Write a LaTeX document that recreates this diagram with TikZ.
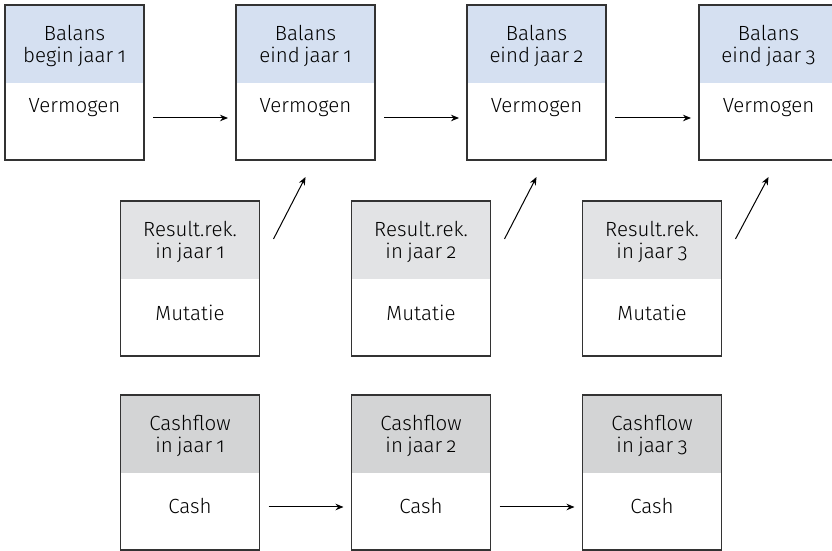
\documentclass[tikz,border=0pt]{standalone}
\usepackage{fontspec}
\setmainfont{Fira Sans Light}[Numbers=OldStyle, WordSpace=0.75]
\usetikzlibrary{arrows.meta,positioning}

\definecolor{balansblauw}{HTML}{D5E0F1}
\definecolor{resultgrijs}{HTML}{E2E3E5}
\definecolor{cashgrijs}{HTML}{D3D4D5}
\definecolor{lijngrijs}{HTML}{333333}

\tikzset{
  kop/.style={anchor=north, minimum width=139pt, minimum height=78pt,
    inner sep=0pt, outer sep=0pt, align=center, text depth=0pt,
    font=\fontsize{20.5}{22}\selectfont},
  kaart/.style={draw=lijngrijs, line width=1.3pt, anchor=north,
    minimum width=139pt, minimum height=155pt, inner sep=0pt, outer sep=0pt},
  romptekst/.style={anchor=base, inner sep=0pt, font=\fontsize{20.5}{22}\selectfont},
  pijl/.style={line width=1pt, -{Stealth[length=8pt,width=6.5pt]}}
}

\begin{document}
\begin{tikzpicture}[x=1pt,y=1pt]

\pgfmathsetmacro{\toprij}{546}
\pgfmathsetmacro{\middenrij}{350}
\pgfmathsetmacro{\onderrij}{156}

\useasboundingbox (0,0) rectangle (832,551);
\clip (0,0) rectangle (832,551);

% Balans boxes:
\node[kop, fill=balansblauw] (b1kop) at (74.5,\toprij) {Balans\\begin jaar 1};
\node[kaart] (b1) at (b1kop.north) {};
\node[romptekst] (b1tekst) at ([yshift=-30pt]b1kop.south) {Vermogen};

\node[kop, fill=balansblauw] (b2kop) at (305.5,\toprij) {Balans\\eind jaar 1};
\node[kaart] (b2) at (b2kop.north) {};
\node[romptekst] (b2tekst) at ([yshift=-30pt]b2kop.south) {Vermogen};

\node[kop, fill=balansblauw] (b3kop) at (536.5,\toprij) {Balans\\eind jaar 2};
\node[kaart] (b3) at (b3kop.north) {};
\node[romptekst] (b3tekst) at ([yshift=-30pt]b3kop.south) {Vermogen};

\node[kop, fill=balansblauw] (b4kop) at (768.5,\toprij) {Balans\\eind jaar 3};
\node[kaart] (b4) at (b4kop.north) {};
\node[romptekst] (b4tekst) at ([yshift=-30pt]b4kop.south) {Vermogen};

% Resultatenrekening boxes:
\node[kop, fill=resultgrijs] (r1kop) at (190,\middenrij) {Result.rek.\\in jaar 1};
\node[kaart] (r1) at (r1kop.north) {};
\node[romptekst] (r1tekst) at ([yshift=-42pt]r1kop.south) {Mutatie};

\node[kop, fill=resultgrijs] (r2kop) at (421,\middenrij) {Result.rek.\\in jaar 2};
\node[kaart] (r2) at (r2kop.north) {};
\node[romptekst] (r2tekst) at ([yshift=-42pt]r2kop.south) {Mutatie};

\node[kop, fill=resultgrijs] (r3kop) at (652,\middenrij) {Result.rek.\\in jaar 3};
\node[kaart] (r3) at (r3kop.north) {};
\node[romptekst] (r3tekst) at ([yshift=-42pt]r3kop.south) {Mutatie};

% Cashflow boxes:
\node[kop, fill=cashgrijs] (c1kop) at (190,\onderrij) {Cashflow\\in jaar 1};
\node[kaart] (c1) at (c1kop.north) {};
\node[romptekst] (c1tekst) at ([yshift=-41pt]c1kop.south) {Cash};

\node[kop, fill=cashgrijs] (c2kop) at (421,\onderrij) {Cashflow\\in jaar 2};
\node[kaart] (c2) at (c2kop.north) {};
\node[romptekst] (c2tekst) at ([yshift=-41pt]c2kop.south) {Cash};

\node[kop, fill=cashgrijs] (c3kop) at (652,\onderrij) {Cashflow\\in jaar 3};
\node[kaart] (c3) at (c3kop.north) {};
\node[romptekst] (c3tekst) at ([yshift=-41pt]c3kop.south) {Cash};

% Arrows between balans boxes:
\draw[pijl] ([xshift=9pt,yshift=-35pt]b1kop.south east) -- ([xshift=-8pt,yshift=-35pt]b2kop.south west);
\draw[pijl] ([xshift=9pt,yshift=-35pt]b2kop.south east) -- ([xshift=-8pt,yshift=-35pt]b3kop.south west);
\draw[pijl] ([xshift=9pt,yshift=-35pt]b3kop.south east) -- ([xshift=-8pt,yshift=-35pt]b4kop.south west);

% Mutations into the balans:
\coordinate (r1start) at ([xshift=14pt,yshift=-38pt]r1.north east);
\coordinate (r2start) at ([xshift=14pt,yshift=-38pt]r2.north east);
\coordinate (r3start) at ([xshift=14pt,yshift=-38pt]r3.north east);
\coordinate (b2punt) at ([yshift=-17pt]b2.south);
\coordinate (b3punt) at ([yshift=-17pt]b3.south);
\coordinate (b4punt) at ([yshift=-17pt]b4.south);
\draw[pijl] (r1start) -- (b2punt);
\draw[pijl] (r2start) -- (b3punt);
\draw[pijl] (r3start) -- (b4punt);

% Arrows between cash boxes:
\draw[pijl] ([xshift=9pt,yshift=-34pt]c1kop.south east) -- ([xshift=-8pt,yshift=-34pt]c2kop.south west);
\draw[pijl] ([xshift=9pt,yshift=-34pt]c2kop.south east) -- ([xshift=-8pt,yshift=-34pt]c3kop.south west);

\end{tikzpicture}
\end{document}
